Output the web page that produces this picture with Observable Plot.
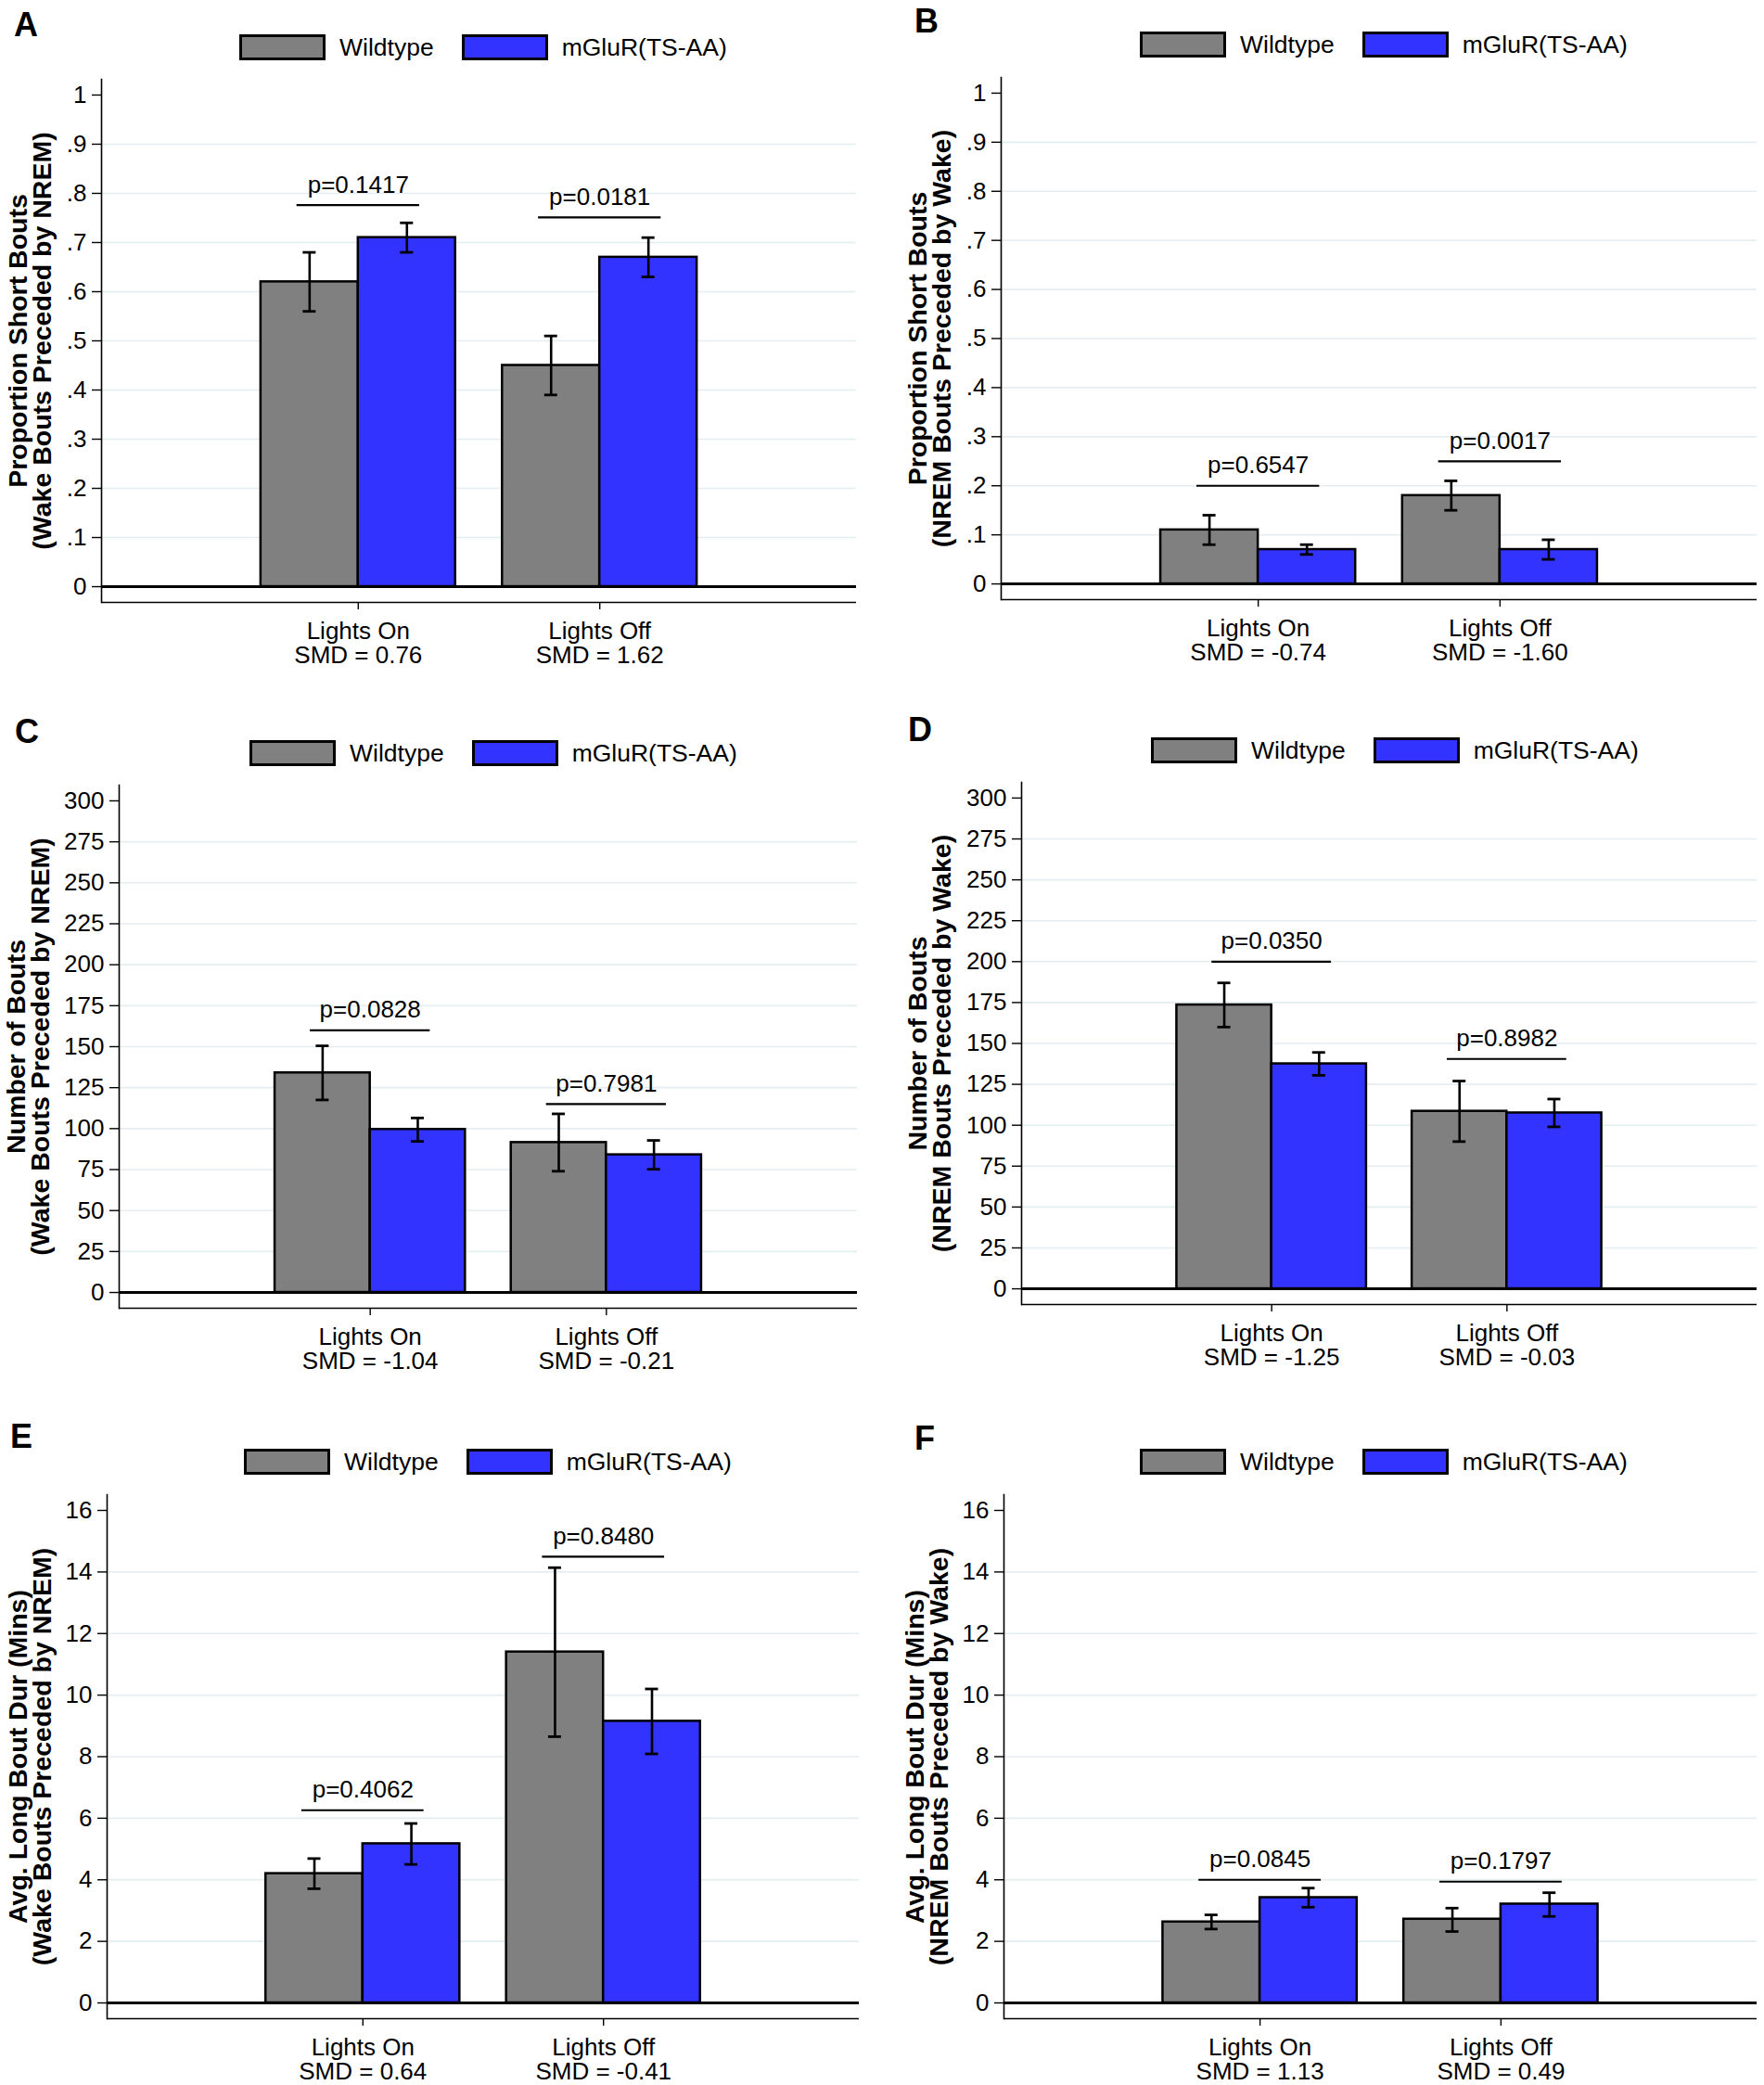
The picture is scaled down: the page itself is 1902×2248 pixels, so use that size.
<!DOCTYPE html>
<html><head><meta charset="utf-8">
<script src="https://cdn.jsdelivr.net/npm/d3@7"></script>
<script src="https://cdn.jsdelivr.net/npm/@observablehq/plot@0.6"></script>
<style>
html,body{margin:0;padding:0;background:#fff;}
#fig{position:relative;width:1902px;height:2248px;font-family:"Liberation Sans",Arial,Helvetica,sans-serif;background:#fff;overflow:hidden;color:#000;}
.panel{position:absolute;}
.letter{position:absolute;font-weight:bold;font-size:36px;line-height:1;}
.legend{position:absolute;display:flex;align-items:center;font-size:26.5px;line-height:1;white-space:nowrap;}
.sw{width:93px;height:28px;box-sizing:border-box;border:3px solid #000;}
.panel svg{position:absolute;left:0;top:0;overflow:visible;}
</style></head><body><div id="fig"></div>
<script>
// ---------- data ----------
const conditions = ["Lights On", "Lights Off"];
const genotypes = ["Wildtype", "mGluR(TS-AA)"];
const genotypeColors = ["#808080", "#3333ff"];
// value order in every series: [Wildtype On, mGluR On, Wildtype Off, mGluR Off]

const letterA = "A";
const titleA = "Proportion Short Bouts\n(Wake Bouts Preceded by NREM)";
const meanA = [0.62, 0.71, 0.45, 0.67];
const lowA = [0.56, 0.68, 0.39, 0.63];
const highA = [0.68, 0.74, 0.51, 0.71];
const pA = ["p=0.1417", "p=0.0181"];
const bracketA = [0.776, 0.751];
const smdA = ["SMD = 0.76", "SMD = 1.62"];
const ticksA = [0, 0.1, 0.2, 0.3, 0.4, 0.5, 0.6, 0.7, 0.8, 0.9, 1];
const tickLabelsA = ["0", ".1", ".2", ".3", ".4", ".5", ".6", ".7", ".8", ".9", "1"];

const letterB = "B";
const titleB = "Proportion Short Bouts\n(NREM Bouts Preceded by Wake)";
const meanB = [0.11, 0.07, 0.18, 0.07];
const lowB = [0.08, 0.06, 0.15, 0.05];
const highB = [0.14, 0.08, 0.21, 0.09];
const pB = ["p=0.6547", "p=0.0017"];
const bracketB = [0.20, 0.25];
const smdB = ["SMD = -0.74", "SMD = -1.60"];
const ticksB = [0, 0.1, 0.2, 0.3, 0.4, 0.5, 0.6, 0.7, 0.8, 0.9, 1];
const tickLabelsB = ["0", ".1", ".2", ".3", ".4", ".5", ".6", ".7", ".8", ".9", "1"];

const letterC = "C";
const titleC = "Number of Bouts\n(Wake Bouts Preceded by NREM)";
const meanC = [134, 99.5, 91.5, 84];
const lowC = [117.5, 92.2, 74, 75.2];
const highC = [150.5, 106.5, 109, 92.8];
const pC = ["p=0.0828", "p=0.7981"];
const bracketC = [160, 115];
const smdC = ["SMD = -1.04", "SMD = -0.21"];
const ticksC = [0, 25, 50, 75, 100, 125, 150, 175, 200, 225, 250, 275, 300];
const tickLabelsC = ["0", "25", "50", "75", "100", "125", "150", "175", "200", "225", "250", "275", "300"];

const letterD = "D";
const titleD = "Number of Bouts\n(NREM Bouts Preceded by Wake)";
const meanD = [173.5, 137.5, 108.5, 107.5];
const lowD = [160, 130.5, 90, 99];
const highD = [187, 144.5, 127, 116];
const pD = ["p=0.0350", "p=0.8982"];
const bracketD = [200, 140.5];
const smdD = ["SMD = -1.25", "SMD = -0.03"];
const ticksD = [0, 25, 50, 75, 100, 125, 150, 175, 200, 225, 250, 275, 300];
const tickLabelsD = ["0", "25", "50", "75", "100", "125", "150", "175", "200", "225", "250", "275", "300"];

const letterE = "E";
const titleE = "Avg. Long Bout Dur (Mins)\n(Wake Bouts Preceded by NREM)";
const meanE = [4.2, 5.17, 11.4, 9.15];
const lowE = [3.71, 4.5, 8.65, 8.09];
const highE = [4.69, 5.83, 14.14, 10.2];
const pE = ["p=0.4062", "p=0.8480"];
const bracketE = [6.26, 14.5];
const smdE = ["SMD = 0.64", "SMD = -0.41"];
const ticksE = [0, 2, 4, 6, 8, 10, 12, 14, 16];
const tickLabelsE = ["0", "2", "4", "6", "8", "10", "12", "14", "16"];

const letterF = "F";
const titleF = "Avg. Long Bout Dur (Mins)\n(NREM Bouts Preceded by Wake)";
const meanF = [2.63, 3.42, 2.72, 3.21];
const lowF = [2.4, 3.11, 2.32, 2.81];
const highF = [2.86, 3.73, 3.08, 3.58];
const pF = ["p=0.0845", "p=0.1797"];
const bracketF = [4.0, 3.94];
const smdF = ["SMD = 1.13", "SMD = 0.49"];
const ticksF = [0, 2, 4, 6, 8, 10, 12, 14, 16];
const tickLabelsF = ["0", "2", "4", "6", "8", "10", "12", "14", "16"];

// ---------- layout (page pixels) ----------
const layout = [
  {letter: letterA, title: titleA, mean: meanA, low: lowA, high: highA, p: pA, bracket: bracketA, smd: smdA, ticks: ticksA, tickLabels: tickLabelsA,
   left: 0, top: 0, w: 951, h: 740, ml: 109, mr: 28, mt: 85, mb: 91, tx: 35, lx: 15, ly: 9, gx: 258, gy: 37},
  {letter: letterB, title: titleB, mean: meanB, low: lowB, high: highB, p: pB, bracket: bracketB, smd: smdB, ticks: ticksB, tickLabels: tickLabelsB,
   left: 951, top: 0, w: 951, h: 740, ml: 128, mr: 8, mt: 83, mb: 94, tx: 54, lx: 35, ly: 5, gx: 278, gy: 34},
  {letter: letterC, title: titleC, mean: meanC, low: lowC, high: highC, p: pC, bracket: bracketC, smd: smdC, ticks: ticksC, tickLabels: tickLabelsC,
   left: 0, top: 740, w: 951, h: 760, ml: 128, mr: 27, mt: 106, mb: 90, tx: 33, lx: 16, ly: 31, gx: 269, gy: 58},
  {letter: letterD, title: titleD, mean: meanD, low: lowD, high: highD, p: pD, bracket: bracketD, smd: smdD, ticks: ticksD, tickLabels: tickLabelsD,
   left: 951, top: 740, w: 951, h: 760, ml: 150, mr: 8, mt: 103, mb: 94, tx: 54, lx: 28, ly: 29, gx: 290, gy: 55},
  {letter: letterE, title: titleE, mean: meanE, low: lowE, high: highE, p: pE, bracket: bracketE, smd: smdE, ticks: ticksE, tickLabels: tickLabelsE,
   left: 0, top: 1500, w: 951, h: 748, ml: 115, mr: 25, mt: 111, mb: 72, tx: 35, lx: 11, ly: 31, gx: 263, gy: 62},
  {letter: letterF, title: titleF, mean: meanF, low: lowF, high: highF, p: pF, bracket: bracketF, smd: smdF, ticks: ticksF, tickLabels: tickLabelsF,
   left: 951, top: 1500, w: 951, h: 748, ml: 131, mr: 8, mt: 111, mb: 72, tx: 51, lx: 35, ly: 33, gx: 278, gy: 62}
];

const padInner = 0.194, padOuter = 0.66;
const fig = document.getElementById("fig");
const FONT = "'Liberation Sans', Arial, Helvetica, sans-serif";

for (const L of layout) {
  const div = document.createElement("div");
  div.className = "panel";
  div.style.left = L.left + "px"; div.style.top = L.top + "px";
  div.style.width = L.w + "px"; div.style.height = L.h + "px";
  fig.appendChild(div);

  const rows = [];
  conditions.forEach((c, ci) => genotypes.forEach((g, gi) => {
    const k = ci * 2 + gi;
    rows.push({condition: c, genotype: g, mean: L.mean[k], low: L.low[k], high: L.high[k]});
  }));
  const wtRows = rows.filter((d) => d.genotype === genotypes[0]);
  const mutRows = rows.filter((d) => d.genotype === genotypes[1]);
  const pRows = conditions.map((c, ci) => ({condition: c, p: L.p[ci], y: L.bracket[ci]}));

  const yMin = L.ticks[0], yMax = L.ticks[L.ticks.length - 1];
  const pad = 0.032 * (yMax - yMin);
  const frameW = L.w - L.ml - L.mr;
  const step = frameW / (2 - padInner + 2 * padOuter);
  const groupW = step * (1 - padInner);   // band width of one condition
  const half = groupW / 2;                // width of one bar
  const capHalf = 7;
  const bracketInset = groupW * 0.185;
  const gridTicks = L.ticks.slice(1, -1);
  const fmt = new Map(L.ticks.map((t, i) => [t, L.tickLabels[i]]));
  const bar = {x: "condition", y: "mean", fill: "genotype", stroke: "#000", strokeWidth: 2.5};
  const err = {x: "condition", y1: "low", y2: "high", stroke: "#000", strokeWidth: 2.6};
  const cap = {x: "condition", stroke: "#000", strokeWidth: 2.8};

  const chart = Plot.plot({
    width: L.w, height: L.h,
    marginLeft: L.ml, marginRight: L.mr, marginTop: L.mt, marginBottom: L.mb,
    style: {fontFamily: FONT, background: "transparent", overflow: "visible"},
    x: {domain: conditions, paddingInner: padInner, paddingOuter: padOuter, round: false, label: null},
    y: {domain: [yMin - pad, yMax + pad]},
    color: {domain: genotypes, range: genotypeColors},
    marks: [
      Plot.ruleY(gridTicks, {stroke: "#e4edf0", strokeWidth: 1.6}),
      Plot.barY(wtRows, {...bar, insetRight: half}),
      Plot.barY(mutRows, {...bar, insetLeft: half}),
      Plot.ruleX(wtRows, {...err, dx: -half / 2}),
      Plot.ruleX(mutRows, {...err, dx: half / 2}),
      Plot.tickY(wtRows, {...cap, y: "low", insetLeft: half / 2 - capHalf, insetRight: 1.5 * half - capHalf}),
      Plot.tickY(wtRows, {...cap, y: "high", insetLeft: half / 2 - capHalf, insetRight: 1.5 * half - capHalf}),
      Plot.tickY(mutRows, {...cap, y: "low", insetLeft: 1.5 * half - capHalf, insetRight: half / 2 - capHalf}),
      Plot.tickY(mutRows, {...cap, y: "high", insetLeft: 1.5 * half - capHalf, insetRight: half / 2 - capHalf}),
      Plot.ruleY([0], {stroke: "#000", strokeWidth: 3}),
      Plot.ruleY([yMin - pad], {stroke: "#000", strokeWidth: 1.6}),
      Plot.frame({anchor: "left", stroke: "#000", strokeWidth: 1.6}),
      Plot.axisY({ticks: L.ticks, tickFormat: (d) => fmt.get(d), tickSize: 10, tickPadding: 6, fontSize: 26, label: null, strokeWidth: 1.4}),
      Plot.axisX({anchor: "bottom", tickSize: 8, tickPadding: 13, fontSize: 26, lineHeight: 1.0, label: null, strokeWidth: 1.4,
        tickFormat: (d) => d + "\n" + L.smd[conditions.indexOf(d)]}),
      Plot.tickY(pRows, {x: "condition", y: "y", insetLeft: bracketInset, insetRight: bracketInset, stroke: "#000", strokeWidth: 2.2}),
      Plot.text(pRows, {x: "condition", y: "y", text: "p", dy: -22, fontSize: 26, fill: "#000"}),
      Plot.text([L.title], {frameAnchor: "left", rotate: -90, dx: L.tx - 2 - L.ml, textAnchor: "middle", lineAnchor: "middle",
        fontSize: 28.5, fontWeight: "bold", lineHeight: 0.92, fill: "#000"})
    ]
  });
  div.appendChild(chart);

  const letter = document.createElement("div");
  letter.className = "letter";
  letter.textContent = L.letter;
  letter.style.left = L.lx + "px"; letter.style.top = L.ly + "px";
  div.appendChild(letter);

  const leg = document.createElement("div");
  leg.className = "legend";
  leg.style.left = L.gx + "px"; leg.style.top = L.gy + "px";
  genotypes.forEach((g, i) => {
    const sw = document.createElement("div");
    sw.className = "sw";
    sw.style.background = genotypeColors[i];
    sw.style.marginRight = "15px";
    const t = document.createElement("span");
    t.textContent = g;
    if (i === 0) t.style.marginRight = "30px";
    leg.appendChild(sw); leg.appendChild(t);
  });
  div.appendChild(leg);
}
</script>
</body></html>
